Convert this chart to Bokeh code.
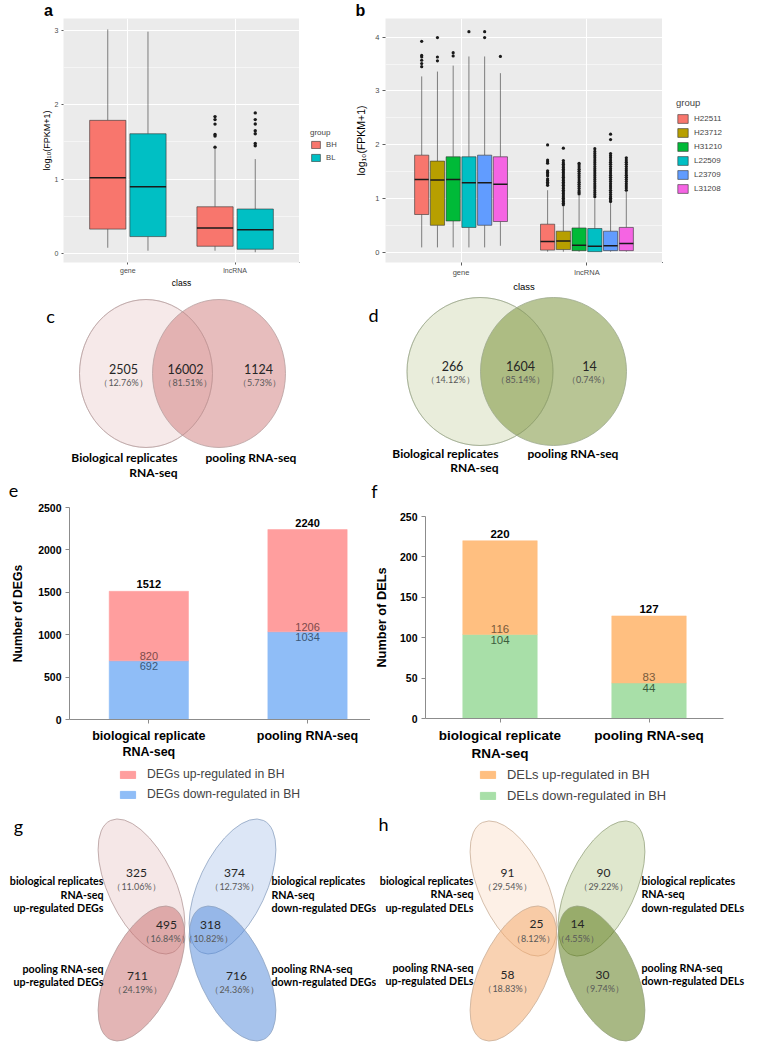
from bokeh.plotting import figure
from bokeh.models import Range1d, FixedTicker, Legend, LegendItem, ColumnDataSource
from bokeh.layouts import column, row
from bokeh.core.properties import value
from bokeh.embed import file_html
from bokeh.resources import INLINE

ARIAL = "Liberation Sans"
CAL = "Lato"

# ======================= DATA =======================
# (a) expression distribution, BH vs BL pools
a_classes = ["gene", "lncRNA"]
a_groups = ["BH", "BL"]
a_colors = ["#F8766D", "#00BFC4"]
a_lower = [[0.08, 0.04], [0.04, 0.02]]
a_q1 = [[0.33, 0.23], [0.10, 0.06]]
a_median = [[1.02, 0.90], [0.345, 0.32]]
a_q3 = [[1.79, 1.61], [0.63, 0.60]]
a_upper = [[3.01, 2.98], [1.42, 1.27]]
a_outliers = [[[], []],
              [[1.43, 1.58, 1.60, 1.74, 1.80, 1.84],
               [1.45, 1.48, 1.61, 1.65, 1.74, 1.80, 1.89]]]
a_yticks = [0, 1, 2, 3]

# (b) expression distribution, six individuals
b_classes = ["gene", "lncRNA"]
b_groups = ["H22511", "H23712", "H31210", "L22509", "L23709", "L31208"]
b_colors = ["#F8766D", "#B79F00", "#00BA38", "#00BFC4", "#619CFF", "#F564E3"]
b_lower = [[0.10, 0.10, 0.10, 0.10, 0.10, 0.13],
           [0.02, 0.02, 0.02, 0.02, 0.02, 0.02]]
b_q1 = [[0.71, 0.51, 0.59, 0.47, 0.51, 0.58],
        [0.05, 0.06, 0.04, 0.02, 0.04, 0.04]]
b_median = [[1.36, 1.35, 1.36, 1.30, 1.30, 1.27],
            [0.21, 0.22, 0.14, 0.12, 0.13, 0.17]]
b_q3 = [[1.81, 1.70, 1.78, 1.78, 1.81, 1.78],
        [0.53, 0.40, 0.46, 0.45, 0.40, 0.47]]
b_upper = [[3.27, 3.36, 3.47, 3.64, 3.64, 3.33],
           [1.16, 0.86, 1.06, 1.01, 0.92, 1.13]]
b_outliers = [
    [[3.45, 3.51, 3.57, 3.63, 3.66, 3.92], [3.56, 3.63, 3.99], [3.65, 3.71],
     [4.10], [3.99, 4.10], [3.64]],
    [[1.25, 1.28, 1.31, 1.34, 1.37, 1.43, 1.46, 1.49, 1.52, 1.66, 1.69, 1.72, 2.00],
     [0.89, 0.92, 0.95, 0.98, 1.01, 1.04, 1.07, 1.10, 1.13, 1.16, 1.19, 1.22, 1.25,
      1.28, 1.31, 1.34, 1.37, 1.40, 1.43, 1.46, 1.49, 1.52, 1.55, 1.58, 1.61, 1.64,
      1.67, 1.71, 1.94],
     [1.09, 1.12, 1.15, 1.19, 1.23, 1.27, 1.31, 1.35, 1.39, 1.43, 1.47, 1.51, 1.55,
      1.59, 1.63, 1.66],
     [1.04, 1.08, 1.12, 1.16, 1.20, 1.24, 1.28, 1.32, 1.36, 1.40, 1.44, 1.48, 1.52,
      1.56, 1.60, 1.64, 1.68, 1.72, 1.76, 1.80, 1.84, 1.88, 1.93],
     [0.95, 0.98, 1.01, 1.04, 1.08, 1.12, 1.16, 1.20, 1.24, 1.28, 1.32, 1.36, 1.40,
      1.44, 1.48, 1.52, 1.56, 1.60, 1.64, 1.68, 1.72, 1.76, 1.80, 1.84, 2.10, 2.20],
     [1.16, 1.20, 1.24, 1.28, 1.32, 1.36, 1.40, 1.44, 1.48, 1.52, 1.56, 1.60, 1.64,
      1.68, 1.72, 1.76]]]
b_yticks = [0, 1, 2, 3, 4]

# (c) expressed genes overlap, (d) expressed lncRNAs overlap
venn_sets = ["Biological replicates\nRNA-seq", "pooling RNA-seq"]
c_counts = [2505, 16002, 1124]
c_pct = ["12.76%", "81.51%", "5.73%"]
d_counts = [266, 1604, 14]
d_pct = ["14.12%", "85.14%", "0.74%"]

# (e) DEGs, (f) DELs
bar_categories = ["biological replicate\nRNA-seq", "pooling RNA-seq"]
e_up = [820, 1206]
e_down = [692, 1034]
e_legend = ["DEGs up-regulated in BH", "DEGs down-regulated in BH"]
e_yticks = [0, 500, 1000, 1500, 2000, 2500]
f_up = [116, 83]
f_down = [104, 44]
f_legend = ["DELs up-regulated in BH", "DELs down-regulated in BH"]
f_yticks = [0, 50, 100, 150, 200, 250]

# (g) DEG overlap, (h) DEL overlap
# order: bio-up only, bio-down only, up shared, down shared, pool-up only, pool-down only
g_counts = [325, 374, 495, 318, 711, 716]
g_pct = ["11.06%", "12.73%", "16.84%", "10.82%", "24.19%", "24.36%"]
g_sets = ["biological replicates\nRNA-seq\nup-regulated DEGs",
          "biological replicates\nRNA-seq\ndown-regulated DEGs",
          "pooling RNA-seq\nup-regulated DEGs",
          "pooling RNA-seq\ndown-regulated DEGs"]
h_counts = [91, 90, 25, 14, 58, 30]
h_pct = ["29.54%", "29.22%", "8.12%", "4.55%", "18.83%", "9.74%"]
h_sets = ["biological replicates\nRNA-seq\nup-regulated DELs",
          "biological replicates\nRNA-seq\ndown-regulated DELs",
          "pooling RNA-seq\nup-regulated DELs",
          "pooling RNA-seq\ndown-regulated DELs"]

panel_letters = ["a", "b", "c", "d", "e", "f", "g", "h"]

# ======================= HELPERS =======================
def base_fig(w, h, **kw):
    return figure(width=w, height=h, output_backend="svg", toolbar_location=None, **kw)


def blank_fig(w, h, left=0, right=0, top=0, bottom=0):
    p = base_fig(w, h, x_range=Range1d(0, 1), y_range=Range1d(0, 1),
                 min_border_left=left, min_border_right=right,
                 min_border_top=top, min_border_bottom=bottom,
                 x_axis_type=None, y_axis_type=None)
    p.outline_line_color = None
    return p


def venn_fig(w, h, x0, y0):
    p = base_fig(w, h, x_range=Range1d(x0, x0 + w), y_range=Range1d(y0 + h, y0),
                 min_border=0, x_axis_type=None, y_axis_type=None)
    p.outline_line_color = None
    return p


def letter(p, txt, x, y, bold=False, size="18px", font=CAL):
    p.text(x=[x], y=[y], text=[txt], text_font=value(font), text_font_size=size,
           text_font_style="bold" if bold else "normal",
           text_align="center", text_baseline="middle", text_color="black")


def draw_boxes(p, classes, groups, colors, lower, q1, med, q3, upper, outl, lw=0.6, osize=3.2):
    n = len(groups)
    slot = 0.75 / n
    bw = slot * 0.9
    for j in range(n):
        xs = [i + 1 + (j - (n - 1) / 2) * slot for i in range(len(classes))]
        src = ColumnDataSource(dict(
            x=xs, x0=[x - bw / 2 for x in xs], x1=[x + bw / 2 for x in xs],
            lo=[lower[i][j] for i in range(len(classes))],
            q1=[q1[i][j] for i in range(len(classes))],
            med=[med[i][j] for i in range(len(classes))],
            q3=[q3[i][j] for i in range(len(classes))],
            hi=[upper[i][j] for i in range(len(classes))]))
        p.segment("x", "q3", "x", "hi", source=src, line_color="#333333", line_width=lw)
        p.segment("x", "lo", "x", "q1", source=src, line_color="#333333", line_width=lw)
        p.vbar(x="x", width=bw, bottom="q1", top="q3", source=src,
               fill_color=colors[j], line_color="#333333", line_width=lw)
        p.segment("x0", "med", "x1", "med", source=src, line_color="#1A1A1A", line_width=1.5)
        ox, oy = [], []
        for i in range(len(classes)):
            for v in outl[i][j]:
                ox.append(xs[i])
                oy.append(v)
        if ox:
            p.scatter(ox, oy, size=osize, fill_color="#1A1A1A", line_color=None)


def gg_style(p, classes, yticks, tick_fs, title_fs, ylab_fs, tick_out, tick_standoff, ylab_standoff):
    p.background_fill_color = "#EBEBEB"
    p.outline_line_color = None
    p.xgrid.grid_line_color = "white"
    p.xgrid.grid_line_width = 1.1
    p.ygrid.grid_line_color = "white"
    p.ygrid.grid_line_width = 1.1
    p.ygrid.minor_grid_line_color = "white"
    p.ygrid.minor_grid_line_width = 0.5
    p.xaxis.ticker = FixedTicker(ticks=[1, 2])
    p.xaxis.major_label_overrides = {1: classes[0], 2: classes[1]}
    p.yaxis.ticker = FixedTicker(ticks=yticks, minor_ticks=[t + 0.5 for t in yticks[:-1]])
    for ax in p.axis:
        ax.axis_line_color = None
        ax.major_tick_line_color = "#333333"
        ax.major_tick_line_width = 0.8
        ax.major_tick_out = tick_out
        ax.major_tick_in = 0
        ax.minor_tick_line_color = None
        ax.major_label_text_color = "#4D4D4D"
        ax.major_label_text_font = ARIAL
        ax.major_label_text_font_size = tick_fs
        ax.major_label_standoff = 2
        ax.axis_label_text_font = ARIAL
        ax.axis_label_text_font_style = "normal"
        ax.axis_label_text_color = "black"
    p.yaxis.major_label_standoff = tick_standoff
    p.xaxis.axis_label = "class"
    p.xaxis.axis_label_text_font_size = title_fs
    p.xaxis.axis_label_standoff = 1
    p.yaxis.axis_label = "log\u2081\u2080(FPKM+1)"
    p.yaxis.axis_label_text_font_size = ylab_fs
    p.yaxis.axis_label_standoff = ylab_standoff


def gg_legend_fig(w, h, bottom, groups, colors, title_fs, lab_fs, gw, gh, spacing, tstand, loc):
    p = blank_fig(w, h, bottom=bottom)
    rs = [p.vbar(x=[-10], top=[-10], width=0.1, fill_color=c, line_color="#333333",
                 line_width=0.6) for c in colors]
    leg = Legend(items=[LegendItem(label=g, renderers=[r]) for g, r in zip(groups, rs)],
                 title="group", title_text_font=ARIAL, title_text_font_size=title_fs,
                 title_text_font_style="normal", title_standoff=tstand,
                 label_text_font=ARIAL, label_text_font_size=lab_fs, label_height=gh,
                 glyph_width=gw, glyph_height=gh, spacing=spacing, label_standoff=5,
                 border_line_color=None, background_fill_alpha=0,
                 margin=0, padding=0, location=loc)
    p.add_layout(leg)
    return p


def bar_legend_fig(w, h, left, right, labels, colors, fs, loc):
    p = blank_fig(w, h, left=left, right=right)
    rs = [p.vbar(x=[-10], top=[-10], width=0.1, fill_color=c, line_color=c) for c in colors]
    leg = Legend(items=[LegendItem(label=l, renderers=[r]) for l, r in zip(labels, rs)],
                 location=loc, label_text_font=ARIAL, label_text_font_size=fs,
                 label_height=13, glyph_width=19, glyph_height=9, spacing=6,
                 label_standoff=10, border_line_color=None, background_fill_alpha=0,
                 padding=0, margin=0)
    p.add_layout(leg)
    return p


def vtext(p, xs, ys, texts, size, color="#222222", align="center", bold=False):
    p.text(x=xs, y=ys, text=texts, text_font=value(CAL), text_font_size=size,
           text_color=color, text_align=align, text_baseline="middle",
           text_font_style="bold" if bold else "normal")


def pct_text(s):
    return "\uff08" + s + "\uff09"


# ======================= STRIP WITH LETTERS a, b =======================
strip = venn_fig(755, 18, 0, 0)
letter(strip, panel_letters[0], 48, 10, bold=True, size="16px", font=ARIAL)
letter(strip, panel_letters[1], 360, 10, bold=True, size="16px", font=ARIAL)

# ======================= PANEL a =======================
pa = base_fig(299, 276, x_range=Range1d(0.4, 2.6), y_range=Range1d(-0.118, 3.157),
              min_border_left=63, min_border_right=0, min_border_top=0, min_border_bottom=26)
draw_boxes(pa, a_classes, a_groups, a_colors, a_lower, a_q1, a_median, a_q3, a_upper,
           a_outliers, osize=3.4)
gg_style(pa, a_classes, a_yticks, "7px", "8.5px", "9px", 2, 1, 0)
pa_leg = gg_legend_fig(53, 276, 26, a_groups, a_colors, "8px", "7.7px", 11, 9, 4, 3, (11, 100))

# ======================= PANEL b =======================
pb = base_fig(310, 276, x_range=Range1d(0.4, 2.6), y_range=Range1d(-0.18, 4.344),
              min_border_left=26, min_border_right=0, min_border_top=0, min_border_bottom=26)
draw_boxes(pb, b_classes, b_groups, b_colors, b_lower, b_q1, b_median, b_q3, b_upper,
           b_outliers, osize=3.2)
gg_style(pb, b_classes, b_yticks, "7.5px", "9.5px", "10.5px", 3, 2, 5)
pb_leg = gg_legend_fig(93, 276, 26, b_groups, b_colors, "9.5px", "8px", 13, 11, 3, 5, (14, 68))

# ======================= PANEL c / d =======================
def venn2(p, cx, cy, w, h, left_col, right_col, right_alpha, line_col,
          counts, pct, num_xy, pct_xy, lab_right_x, lab_left_x, lab_y, lab_dy):
    p.ellipse(x=[cx[0]], y=[cy], width=[w], height=[h], fill_color=left_col,
              line_color=line_col, line_width=0.8)
    p.ellipse(x=[cx[1]], y=[cy], width=[w], height=[h], fill_color=right_col,
              fill_alpha=right_alpha, line_color=line_col, line_width=0.8)
    p.ellipse(x=[cx[0]], y=[cy], width=[w], height=[h], fill_color=None,
              line_color=line_col, line_width=0.6, line_alpha=0.6)
    vtext(p, [q[0] for q in num_xy], [q[1] for q in num_xy], [str(v) for v in counts], "12.5px", "#262626")
    vtext(p, [q[0] for q in pct_xy], [q[1] for q in pct_xy], [pct_text(s) for s in pct], "9px", "#595959")
    left_lines = venn_sets[0].split("\n")
    vtext(p, [lab_right_x] * len(left_lines), [lab_y + k * lab_dy for k in range(len(left_lines))],
          left_lines, "12px", "black", align="right", bold=True)
    vtext(p, [lab_left_x], [lab_y], [venn_sets[1]], "12px", "black", align="left", bold=True)


pc = venn_fig(366, 208, 0, 294)
venn2(pc, [145.5, 218.5], 373, 133, 148, "#F6E9E9", "#D07B7B", 0.5, "#B8A0A0",
      c_counts, c_pct, [(123, 368), (185, 368), (258, 368)], [(123, 382), (187, 382), (259, 382)],
      177, 205, 457, 15)
letter(pc, panel_letters[2], 50, 315)
letter(pc, panel_letters[4], 13, 490)

pd = venn_fig(389, 208, 366, 294)
venn2(pd, [479.5, 553], 371, 146, 148, "#E9EDDB", "#728C2C", 0.5, "#9CA88C",
      d_counts, d_pct, [(452, 365), (520, 365), (589, 365)], [(450, 379), (520, 379), (588, 379)],
      498, 527, 453, 14)
letter(pd, panel_letters[3], 373, 314)
letter(pd, panel_letters[5], 374, 490)

# ======================= PANEL e / f =======================
def bar_panel(p, up, down, c_up, c_down, lc_up, lc_down, yticks, ylab,
              tick_fs, cat_fs, ylab_fs, num_fs, ylab_standoff, off_tot, off_in):
    src = ColumnDataSource(dict(
        x=[1, 2], down=down, up=up, total=[d + u for d, u in zip(down, up)],
        up_lbl=[str(v) for v in up], down_lbl=[str(v) for v in down],
        tot_lbl=[str(d + u) for d, u in zip(down, up)]))
    p.vbar_stack(["down", "up"], x="x", width=0.5, source=src,
                 fill_color=[c_down, c_up], line_color=[c_down, c_up], line_width=0.5)
    p.text(x="x", y="total", text="tot_lbl", source=src, text_font=value(ARIAL),
           text_font_size=num_fs, text_font_style="bold", text_color="black",
           text_align="center", text_baseline="bottom", y_offset=-off_tot)
    p.text(x="x", y="down", text="up_lbl", source=src, text_font=value(ARIAL),
           text_font_size=num_fs, text_color=lc_up, text_align="center",
           text_baseline="bottom", y_offset=-off_in)
    p.text(x="x", y="down", text="down_lbl", source=src, text_font=value(ARIAL),
           text_font_size=num_fs, text_color=lc_down, text_align="center",
           text_baseline="top", y_offset=off_in)
    p.outline_line_color = None
    p.xgrid.visible = False
    p.ygrid.visible = False
    p.xaxis.ticker = FixedTicker(ticks=[1, 2])
    p.xaxis.major_label_overrides = {1: bar_categories[0], 2: bar_categories[1]}
    p.yaxis.ticker = FixedTicker(ticks=yticks)
    for ax in p.axis:
        ax.axis_line_color = "#8C8C8C"
        ax.major_tick_line_color = "#8C8C8C"
        ax.major_tick_out = 4
        ax.major_tick_in = 0
        ax.minor_tick_line_color = None
        ax.major_label_text_font = ARIAL
        ax.major_label_text_font_style = "bold"
        ax.major_label_text_color = "black"
        ax.axis_label_text_font = ARIAL
        ax.axis_label_text_font_style = "bold"
        ax.axis_label_text_color = "black"
    p.yaxis.major_label_text_font_size = tick_fs
    p.yaxis.major_label_standoff = 4
    p.xaxis.major_label_text_font_size = cat_fs
    p.xaxis.major_label_standoff = 5
    p.yaxis.axis_label = ylab
    p.yaxis.axis_label_text_font_size = ylab_fs
    p.yaxis.axis_label_standoff = ylab_standoff


pe = base_fig(370, 262, x_range=Range1d(0.5, 2.397), y_range=Range1d(0, 2500),
              min_border_left=69, min_border_right=0, min_border_top=5, min_border_bottom=45)
bar_panel(pe, e_up, e_down, "#FF9E9E", "#8FBDF7", "#7E4A4A", "#3B5878", e_yticks,
          "Number of DEGs", "10.5px", "12.5px", "12.2px", "11px", 10, 3, 1)
pe_leg = bar_legend_fig(370, 45, 69, 0, e_legend, ["#FF9E9E", "#8FBDF7"], "12.2px", (49, 8))

pf = base_fig(385, 262, x_range=Range1d(0.5, 2.5), y_range=Range1d(0, 250),
              min_border_left=49, min_border_right=32, min_border_top=14, min_border_bottom=46)
bar_panel(pf, f_up, f_down, "#FFBF80", "#A8DFA8", "#7A5A3A", "#3D5E3D", f_yticks,
          "Number of DELs", "10.5px", "13.5px", "12.8px", "11.5px", 8, 3, 1.5)
pf_leg = bar_legend_fig(385, 45, 49, 32, f_legend, ["#FFBF80", "#A8DFA8"], "12.9px", (53, 6))

# ======================= PANEL g / h =======================
def venn4(p, cx, cy, w, h, tilt, cols, line_cols, counts, pct, num_xy, pct_xy,
          sets, lx_right, lx_left, ys_top, ys_bot):
    p.ellipse(x=[cx[0]], y=[cy[0]], width=[w], height=[h], angle=[tilt],
              fill_color=cols[0], line_color=line_cols[0], line_width=0.8)
    p.ellipse(x=[cx[1]], y=[cy[0]], width=[w], height=[h], angle=[-tilt],
              fill_color=cols[2], line_color=line_cols[1], line_width=0.8)
    p.ellipse(x=[cx[0]], y=[cy[1]], width=[w], height=[h], angle=[-tilt],
              fill_color=cols[1], fill_alpha=0.5, line_color=line_cols[0], line_width=0.8)
    p.ellipse(x=[cx[1]], y=[cy[1]], width=[w], height=[h], angle=[tilt],
              fill_color=cols[3], fill_alpha=0.5, line_color=line_cols[1], line_width=0.8)
    vtext(p, [q[0] for q in num_xy], [q[1] for q in num_xy], [str(v) for v in counts], "12px", "#262626")
    vtext(p, [q[0] for q in pct_xy], [q[1] for q in pct_xy], [pct_text(s) for s in pct], "9px", "#595959")
    for k, s in enumerate(sets):
        lines = s.split("\n")
        ys = ys_top if k < 2 else ys_bot
        x = lx_right if k % 2 == 0 else lx_left
        al = "right" if k % 2 == 0 else "left"
        vtext(p, [x] * len(lines), ys[:len(lines)], lines, "10.7px", "black", align=al, bold=True)


TILT = 0.44
pg = venn_fig(376, 237, 0, 809)
venn4(pg, [141, 232], [886, 973], 67, 146, TILT,
      ["#F5E7E7", "#C76B6B", "#DCE6F6", "#4F87D9"], ["#B49A9A", "#8EA3C2"],
      g_counts, g_pct,
      [(136, 872), (234, 872), (166, 924), (210, 924), (137, 975), (236, 975)],
      [(136, 886), (234, 886), (165, 938), (208, 938), (137, 989), (234, 989)],
      g_sets, 103, 271, [880, 894, 907], [968, 981])
letter(pg, panel_letters[6], 18, 825)

ph = venn_fig(379, 237, 376, 809)
venn4(ph, [513, 601], [888, 973], 67, 146, TILT,
      ["#FDF0E6", "#F3A565", "#DFE7CD", "#517109"], ["#C9AE98", "#98A481"],
      h_counts, h_pct,
      [(507, 872), (603, 872), (536, 923), (577, 923), (507, 974), (602, 974)],
      [(507, 886), (603, 886), (533, 938), (577, 938), (507, 988), (602, 988)],
      h_sets, 473, 641, [880, 893, 907], [967, 980])
letter(ph, panel_letters[7], 383, 823)

layout = column(strip,
                row(pa, pa_leg, pb, pb_leg),
                row(pc, pd),
                row(column(pe, pe_leg), column(pf, pf_leg)),
                row(pg, ph))
open("out.html", "w").write(file_html(layout, INLINE))
